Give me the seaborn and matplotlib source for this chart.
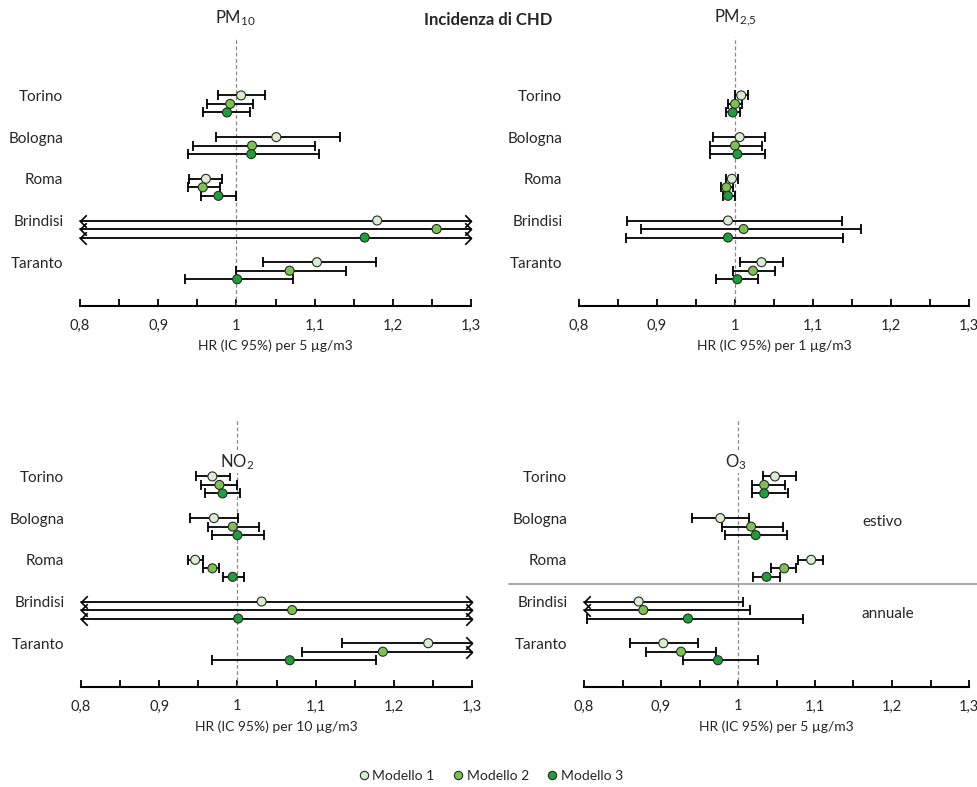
import numpy as np
import pandas as pd
import matplotlib
matplotlib.use("Agg")
import matplotlib.pyplot as plt
import seaborn as sns
from matplotlib.lines import Line2D
from matplotlib.ticker import MultipleLocator, FuncFormatter

CITIES = ["Torino", "Bologna", "Roma", "Brindisi", "Taranto"]
MODELS = ["Modello 1", "Modello 2", "Modello 3"]
COLORS = {"Modello 1": "#d9edd1", "Modello 2": "#7cc24e", "Modello 3": "#1f9e3c"}

# HR and 95% CI, rows = cities, columns = models (values past the axis end get an arrow)
PM10_HR = [[1.006, 0.992, 0.988], [1.051, 1.020, 1.019], [0.961, 0.957, 0.977],
           [1.180, 1.256, 1.164], [1.103, 1.068, 1.001]]
PM10_LO = [[0.976, 0.962, 0.957], [0.974, 0.945, 0.938], [0.939, 0.938, 0.955],
           [0.55, 0.52, 0.56], [1.034, 1.000, 0.934]]
PM10_HI = [[1.036, 1.021, 1.018], [1.133, 1.101, 1.105], [0.982, 0.979, 1.000],
           [2.40, 2.90, 2.30], [1.178, 1.140, 1.073]]

PM25_HR = [[1.008, 1.000, 0.997], [1.006, 1.000, 1.003], [0.996, 0.989, 0.991],
           [0.991, 1.011, 0.991], [1.034, 1.023, 1.003]]
PM25_LO = [[1.000, 0.991, 0.988], [0.972, 0.968, 0.968], [0.988, 0.982, 0.984],
           [0.861, 0.880, 0.860], [1.006, 0.997, 0.976]]
PM25_HI = [[1.017, 1.009, 1.006], [1.038, 1.034, 1.038], [1.004, 0.997, 1.000],
           [1.137, 1.162, 1.139], [1.061, 1.051, 1.030]]

NO2_HR = [[0.968, 0.977, 0.981], [0.970, 0.994, 1.000], [0.946, 0.968, 0.994],
          [1.031, 1.070, 1.001], [1.244, 1.186, 1.067]]
NO2_LO = [[0.947, 0.954, 0.958], [0.940, 0.962, 0.967], [0.937, 0.956, 0.981],
          [0.60, 0.62, 0.58], [1.134, 1.082, 0.968]]
NO2_HI = [[0.991, 0.999, 1.003], [1.001, 1.028, 1.034], [0.956, 0.977, 1.009],
          [1.80, 1.90, 1.70], [1.38, 1.32, 1.177]]

O3_HR = [[1.048, 1.034, 1.034], [0.977, 1.017, 1.023], [1.095, 1.060, 1.037],
         [0.871, 0.877, 0.935], [0.903, 0.926, 0.974]]
O3_LO = [[1.033, 1.018, 1.018], [0.940, 0.979, 0.983], [1.078, 1.043, 1.019],
         [0.75, 0.76, 0.804], [0.860, 0.881, 0.928]]
O3_HI = [[1.075, 1.061, 1.065], [1.014, 1.058, 1.064], [1.111, 1.075, 1.054],
         [1.006, 1.015, 1.085], [0.948, 0.971, 1.026]]

sns.set_style("white")
plt.rcParams["font.family"] = ["Lato", "DejaVu Sans"]
plt.rcParams["mathtext.default"] = "regular"

XMIN, XMAX = 0.8, 1.3
STEP = 0.204
LEFT_ARROW = [(1, 1), (0, 0), (1, -1)]
RIGHT_ARROW = [(-1, 1), (0, 0), (-1, -1)]

W, H = 977, 787
fig = plt.figure(figsize=(W / 100, H / 100), dpi=100)


def rect(x0, x1, y_axis):
    top = y_axis - 6.45 * 41.7
    return [x0 / W, 1 - y_axis / H, (x1 - x0) / W, (y_axis - top) / H]


panels = [
    ("PM$_{10}$", "HR (IC 95%) per 5 µg/m3", PM10_HR, PM10_LO, PM10_HI, rect(80, 471, 306), (235, 18)),
    ("PM$_{2{,}5}$", "HR (IC 95%) per 1 µg/m3", PM25_HR, PM25_LO, PM25_HI, rect(579, 969, 306), (735, 18)),
    ("NO$_{2}$", "HR (IC 95%) per 10 µg/m3", NO2_HR, NO2_LO, NO2_HI, rect(81, 472, 687), (237, 462)),
    ("O$_{3}$", "HR (IC 95%) per 5 µg/m3", O3_HR, O3_LO, O3_HI, rect(584, 969, 687), (736, 462)),
]

fmt = FuncFormatter(lambda v, p: f"{round(v, 2):g}".replace(".", ","))
axes = []
for title, xlabel, hr, lo, hi, r, tpos in panels:
    ax = fig.add_axes(r)
    axes.append(ax)
    rows = []
    for i, city in enumerate(CITIES):
        for j, m in enumerate(MODELS):
            rows.append({"city": city, "model": m, "y": i + j * STEP,
                         "hr": hr[i][j], "lo": lo[i][j], "hi": hi[i][j]})
    df = pd.DataFrame(rows)

    ax.axvline(1.0, color="#8a8a8a", lw=0.9, dashes=(3, 2), zorder=1)

    for _, d in df.iterrows():
        a, b = max(d["lo"], XMIN), min(d["hi"], XMAX)
        ax.plot([a, b], [d["y"], d["y"]], color="black", lw=1.3, zorder=2, clip_on=False)
        if d["lo"] < XMIN:
            ax.plot(XMIN, d["y"], marker=LEFT_ARROW, ms=9, mfc="none", mec="black",
                    mew=1.2, zorder=2, clip_on=False)
        else:
            ax.plot(a, d["y"], marker="|", ms=6.5, mew=1.3, color="black", zorder=2)
        if d["hi"] > XMAX:
            ax.plot(XMAX, d["y"], marker=RIGHT_ARROW, ms=9, mfc="none", mec="black",
                    mew=1.2, zorder=2, clip_on=False)
        else:
            ax.plot(b, d["y"], marker="|", ms=6.5, mew=1.3, color="black", zorder=2)

    sns.scatterplot(data=df, x="hr", y="y", hue="model", palette=COLORS, s=42,
                    edgecolor="#2a2a2a", linewidth=0.8, legend=False, ax=ax, zorder=3)

    ax.set_xlim(XMIN, XMAX)
    ax.set_ylim(5.05, -1.4)
    ax.set_yticks(range(len(CITIES)))
    ax.set_yticklabels(CITIES, fontsize=11)
    ax.tick_params(axis="y", length=0, pad=12)
    ax.xaxis.set_major_locator(MultipleLocator(0.1))
    ax.xaxis.set_minor_locator(MultipleLocator(0.05))
    ax.xaxis.set_major_formatter(fmt)
    ax.tick_params(axis="x", which="both", direction="in", length=5, width=1.3,
                   color="black", labelsize=10.5, pad=9, bottom=True)
    for s in ["top", "left", "right"]:
        ax.spines[s].set_visible(False)
    ax.spines["bottom"].set_color("black")
    ax.spines["bottom"].set_linewidth(1.5)
    ax.set_xlabel(xlabel, fontsize=10, labelpad=5)
    ax.set_ylabel("")
    fig.text(tpos[0] / W, 1 - tpos[1] / H, title, ha="center", va="center", fontsize=12,
             bbox=dict(facecolor="white", edgecolor="none", pad=1), zorder=5)

# O3 panel: summer vs annual split
ax4 = axes[3]
ax4.axhline(2.59, xmin=-0.195, xmax=1.03, color="#9a9a9a", lw=1.2, clip_on=False)
ax4.text(1.161, 1.10, "estivo", fontsize=11, va="center")
ax4.text(1.161, 3.29, "annuale", fontsize=11, va="center")

fig.text(488 / W, 1 - 20 / H, "Incidenza di CHD", ha="center", va="center",
         fontsize=12, fontweight="bold")

handles = [Line2D([0], [0], marker="o", ls="", ms=6, mfc=COLORS[m], mec="#2a2a2a",
                  mew=0.8, label=m) for m in MODELS]
fig.legend(handles=handles, loc="center", bbox_to_anchor=(490 / W, 1 - 776 / H), ncol=3,
           frameon=False, fontsize=10, handletextpad=0.1, columnspacing=1.2,
           handlelength=1.0)

fig.savefig("out.png", dpi=100)
